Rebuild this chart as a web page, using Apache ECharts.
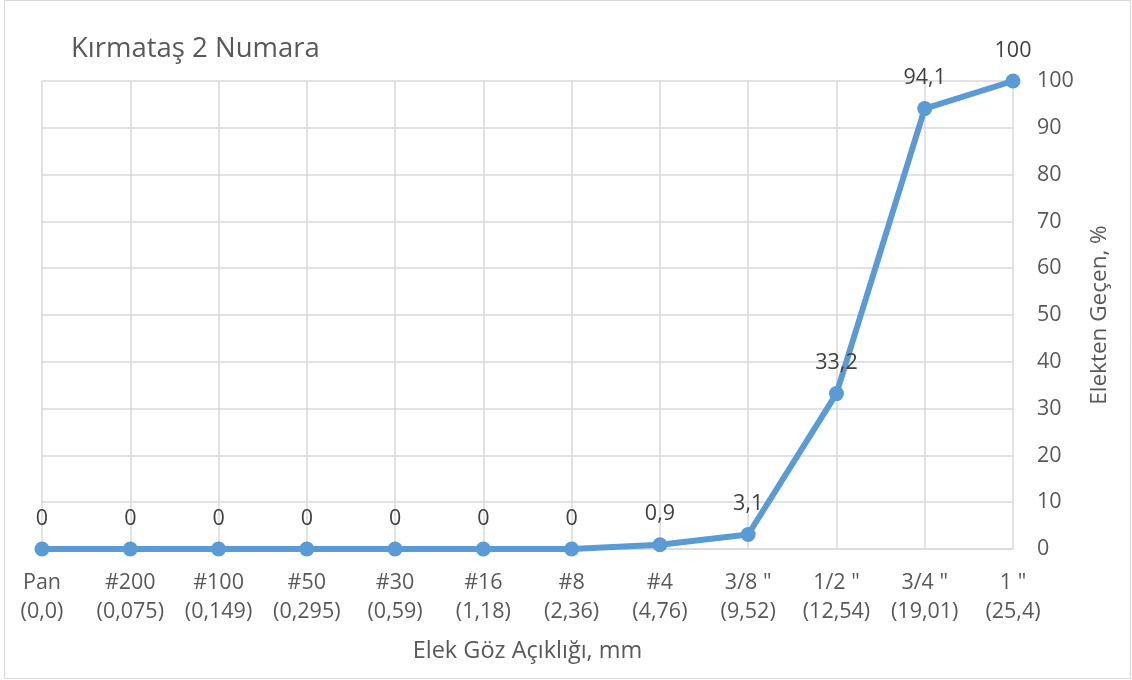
<!DOCTYPE html>
<html><head><meta charset="utf-8">
<script src="https://cdn.jsdelivr.net/npm/echarts@6/dist/echarts.min.js"></script>
<style>html,body{margin:0;padding:0;background:#fff}#c{width:1132px;height:680px}</style>
</head><body><div id="c"></div>
<script>
const categories = ['Pan\n(0,0)','#200\n(0,075)','#100\n(0,149)','#50\n(0,295)','#30\n(0,59)','#16\n(1,18)','#8\n(2,36)','#4\n(4,76)','3/8 "\n(9,52)','1/2 "\n(12,54)','3/4 "\n(19,01)','1 "\n(25,4)'];
const passing = [0,0,0,0,0,0,0,0.9,3.1,33.2,94.1,100];
const yTicks = {min:0, max:100, interval:10};
const FONT = '"Open Sans", Lato, sans-serif';
const chart = echarts.init(document.getElementById('c'));
chart.setOption({
  animation:false,
  textStyle:{fontFamily:FONT},
  graphic:[{type:'rect',shape:{x:4.5,y:0.5,width:1126,height:678},style:{fill:'none',stroke:'#d9d9d9',lineWidth:1}}],
  title:{text:'Kırmataş 2 Numara',left:66,top:30,textStyle:{fontFamily:FONT,fontSize:27.5,fontWeight:'normal',color:'#595959'}},
  grid:{left:42,right:119,top:81,bottom:131},
  xAxis:{type:'category',data:categories,boundaryGap:false,
    name:'Elek Göz Açıklığı, mm',nameLocation:'middle',nameGap:90,
    nameTextStyle:{fontFamily:FONT,fontSize:23.5,color:'#595959'},
    axisLine:{lineStyle:{color:'#d9d9d9',width:1.5}},axisTick:{show:false},
    axisLabel:{interval:0,margin:19,fontFamily:FONT,fontSize:21.5,color:'#595959',lineHeight:29},
    splitLine:{show:true,lineStyle:{color:'#d9d9d9',width:1.5}}},
  yAxis:{type:'value',position:'right',min:yTicks.min,max:yTicks.max,interval:yTicks.interval,
    name:'Elekten Geçen, %',nameLocation:'middle',nameGap:75,nameRotate:90,
    nameTextStyle:{fontFamily:FONT,fontSize:22.5,color:'#595959'},
    axisLine:{show:false},axisTick:{show:false},
    axisLabel:{margin:24,fontFamily:FONT,fontSize:21.5,color:'#595959'},
    splitLine:{lineStyle:{color:'#d9d9d9',width:1.5}}},
  series:[{type:'line',data:passing,symbol:'circle',symbolSize:15,
    lineStyle:{color:'#5B9BD5',width:6},itemStyle:{color:'#5B9BD5'},
    label:{show:true,position:'top',distance:12,fontFamily:FONT,fontSize:21.5,color:'#404040',
      formatter:p=>String(p.value).replace('.',',')}}]
});
</script></body></html>
